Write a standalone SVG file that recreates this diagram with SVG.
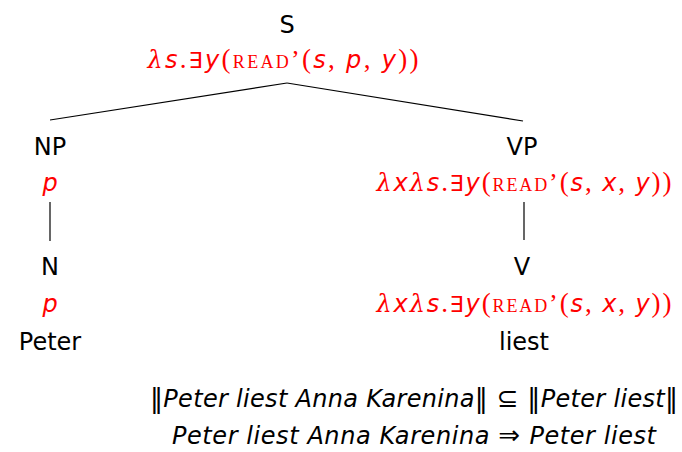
<svg xmlns="http://www.w3.org/2000/svg" width="682" height="452" viewBox="0 0 682 452">
<style>
text{font-family:"DejaVu Sans","Liberation Sans",sans-serif;font-size:24px;fill:#000;text-anchor:middle}
.r{fill:#ff0000}
.i{font-style:italic}
.m{font-family:"Liberation Serif","DejaVu Serif",serif;font-size:27px}
.l{font-family:"DejaVu Serif","Liberation Serif",serif;font-style:italic}
.sc{font-family:"Liberation Serif","DejaVu Serif",serif;font-variant:small-caps;font-size:26px}
.e{font-family:"DejaVu Sans",sans-serif;font-size:22px}
.d{font-family:"DejaVu Sans",sans-serif;font-style:normal;font-size:26px}
line{stroke:#000;stroke-width:1.2}
</style>
<rect width="682" height="452" fill="#fff"/>
<g id="connectors">
<line x1="287" y1="83" x2="50" y2="120"/>
<line x1="287" y1="83" x2="523" y2="121"/>
<line x1="50" y1="202" x2="50" y2="241"/>
<line x1="524" y1="202" x2="524" y2="240"/>
</g>
<g id="S">
<text x="287" y="33">S</text>
<text class="r" x="283" y="68" textLength="271" lengthAdjust="spacing"><tspan class="l">λ</tspan><tspan class="i">s</tspan><tspan class="m">.</tspan><tspan class="e">∃</tspan><tspan class="i">y</tspan><tspan class="m">(</tspan><tspan class="sc">read’</tspan><tspan class="m">(</tspan><tspan class="i">s</tspan><tspan class="m">, </tspan><tspan class="i">p</tspan><tspan class="m">, </tspan><tspan class="i">y</tspan><tspan class="m">))</tspan></text>
</g>
<g id="NP">
<text x="50" y="155">NP</text>
<text class="r i" x="50" y="191">p</text>
</g>
<g id="N">
<text x="50" y="275">N</text>
<text class="r i" x="50" y="312">p</text>
<text x="50" y="350">Peter</text>
</g>
<g id="VP">
<text x="522" y="155">VP</text>
<text class="r" x="524" y="191" textLength="295" lengthAdjust="spacing"><tspan class="l">λ</tspan><tspan class="i">x</tspan><tspan class="l">λ</tspan><tspan class="i">s</tspan><tspan class="m">.</tspan><tspan class="e">∃</tspan><tspan class="i">y</tspan><tspan class="m">(</tspan><tspan class="sc">read’</tspan><tspan class="m">(</tspan><tspan class="i">s</tspan><tspan class="m">, </tspan><tspan class="i">x</tspan><tspan class="m">, </tspan><tspan class="i">y</tspan><tspan class="m">))</tspan></text>
</g>
<g id="V">
<text x="522" y="275">V</text>
<text class="r" x="524" y="312" textLength="295" lengthAdjust="spacing"><tspan class="l">λ</tspan><tspan class="i">x</tspan><tspan class="l">λ</tspan><tspan class="i">s</tspan><tspan class="m">.</tspan><tspan class="e">∃</tspan><tspan class="i">y</tspan><tspan class="m">(</tspan><tspan class="sc">read’</tspan><tspan class="m">(</tspan><tspan class="i">s</tspan><tspan class="m">, </tspan><tspan class="i">x</tspan><tspan class="m">, </tspan><tspan class="i">y</tspan><tspan class="m">))</tspan></text>
<text x="524" y="350">liest</text>
</g>
<g id="bottom">
<text x="414" y="407" textLength="528" lengthAdjust="spacing"><tspan class="d">‖</tspan><tspan class="i">Peter liest Anna Karenina</tspan><tspan class="d">‖ ⊆ ‖</tspan><tspan class="i">Peter liest</tspan><tspan class="d">‖</tspan></text>
<text x="414" y="444" textLength="484" lengthAdjust="spacing"><tspan class="i">Peter liest Anna Karenina </tspan><tspan class="d">⇒ </tspan><tspan class="i">Peter liest</tspan></text>
</g>
</svg>
